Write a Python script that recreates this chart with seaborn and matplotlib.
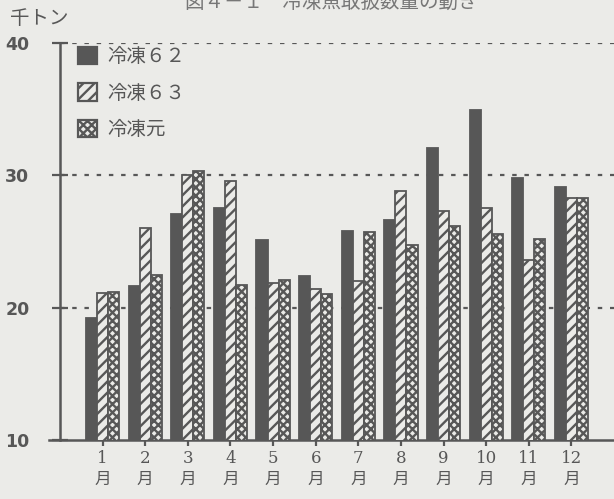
import matplotlib
matplotlib.use("Agg")
import matplotlib.pyplot as plt
import pandas as pd
import seaborn as sns

# values in thousand tonnes
months = [1, 2, 3, 4, 5, 6, 7, 8, 9, 10, 11, 12]
series_names = ["冷凍６２", "冷凍６３", "冷凍元"]
frozen_62 = [19.2, 21.6, 27.1, 27.5, 25.1, 22.4, 25.8, 26.6, 32.1, 34.9, 29.8, 29.1]
frozen_63 = [21.1, 26.0, 30.0, 29.6, 21.9, 21.4, 22.0, 28.8, 27.3, 27.5, 23.6, 28.3]
frozen_gen = [21.2, 22.5, 30.3, 21.7, 22.1, 21.0, 25.7, 24.7, 26.2, 25.6, 25.2, 28.3]
month_labels = [f"{m}\n月" for m in months]
y_ticks = [10, 20, 30, 40]

title = "図４－１　冷凍魚取扱数量の動き"
unit_label = "千トン"


def build_frame():
    """Long format table for seaborn"""
    rows = []
    for name, vals in zip(series_names, [frozen_62, frozen_63, frozen_gen]):
        for m, v in zip(months, vals):
            rows.append({"month": m, "series": name, "value": v})
    return pd.DataFrame(rows)


def main():
    sns.set_style("white")
    plt.rcParams["font.family"] = ["Noto Sans CJK JP", "DejaVu Sans"]
    plt.rcParams["hatch.linewidth"] = 1.7

    bg = "#ebebe8"
    ink = "#575757"
    faces = [ink, bg, bg]
    hatches = [None, "///", "xxxx"]

    fig = plt.figure(figsize=(6.14, 4.99), dpi=100, facecolor=bg)
    ax = fig.add_axes([60 / 614, 59 / 499, 1 - 60 / 614, (440 - 43) / 499])
    ax.set_facecolor(bg)

    df = build_frame()
    sns.barplot(
        data=df, x="month", y="value", hue="series", hue_order=series_names,
        order=months, width=0.78, ax=ax, saturation=1, zorder=3,
        palette=faces, edgecolor=ink, linewidth=1.3,
    )

    for cont, h in zip(ax.containers, hatches):
        for bar in cont:
            if h:
                bar.set_hatch(h)

    # dotted reference lines
    for y in [20, 30, 40]:
        ax.axhline(y, color=ink, linestyle=(0, (2, 3.5)), linewidth=1.6, zorder=1)

    ax.set_xlim(-1.0, 12.0)
    ax.set_ylim(10, 40)
    ax.set_yticks(y_ticks)
    ax.set_yticklabels([str(t) for t in y_ticks], fontsize=12.5, color=ink,
                       fontweight="bold", family=["DejaVu Sans"])
    ax.set_xticks(range(len(months)))
    ax.set_xticklabels(month_labels, fontsize=12, color=ink, linespacing=1.25,
                       family=["DejaVu Serif", "Noto Sans CJK JP"])
    ax.tick_params(axis="y", left=True, direction="inout", length=12, width=1.6,
                   color=ink, pad=16)
    ax.tick_params(axis="x", bottom=True, direction="inout", length=9, width=1.6,
                   color=ink, pad=3)
    ax.set_xlabel("")
    ax.set_ylabel("")

    for side in ["top", "right"]:
        ax.spines[side].set_visible(False)
    for side in ["left", "bottom"]:
        ax.spines[side].set_color(ink)
        ax.spines[side].set_linewidth(1.8)
    ax.spines["bottom"].set_bounds(-1.25, 12.0)

    leg = ax.legend(
        loc="upper left", bbox_to_anchor=(18 / 554, 1 - 3 / 397), frameon=False,
        fontsize=14, handlelength=1.0, handleheight=1.0, handletextpad=0.5,
        labelspacing=0.8, borderaxespad=0, borderpad=0,
    )
    for t in leg.get_texts():
        t.set_color(ink)
    for handle, fc, h in zip(leg.legend_handles, faces, hatches):
        handle.set_facecolor(fc)
        handle.set_edgecolor(ink)
        handle.set_linewidth(1.6)
        if h:
            handle.set_hatch(h)

    fig.text(10 / 614, 1 - 19 / 499, unit_label, fontsize=14, color=ink, va="center", ha="left")
    fig.text(0.54, 1 - 2 / 499, title, fontsize=14, color="#777777", va="center", ha="center")

    fig.savefig("out.png", dpi=100, facecolor=bg)
    plt.close(fig)


if __name__ == "__main__":
    main()
